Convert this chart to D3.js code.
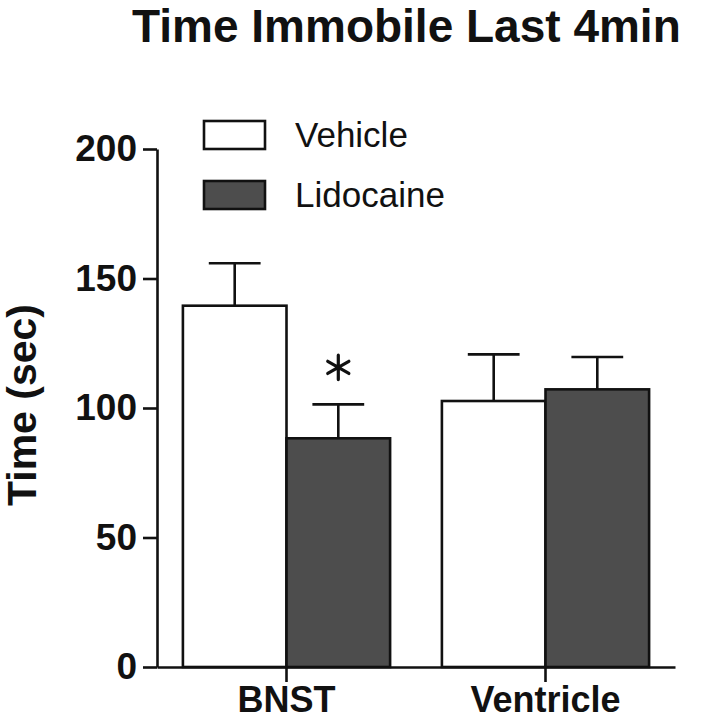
<!DOCTYPE html>
<html>
<head>
<meta charset="utf-8">
<script src="https://cdn.jsdelivr.net/npm/d3@7"></script>
<style>
  html, body { margin: 0; padding: 0; background: #fff; }
  svg { display: block; font-family: "Liberation Sans", Arial, Helvetica, sans-serif; }
</style>
</head>
<body>
<script>
// ---- data ----
const groups = ["BNST", "Ventricle"];
const series = ["Vehicle", "Lidocaine"];
const vehicleMeans = [139.5, 102.7];
const vehicleSEM = [16.4, 18.0];
const lidocaineMeans = [88.3, 107.2];
const lidocaineSEM = [13.1, 12.5];
const yTicks = [0, 50, 100, 150, 200];
const significance = [{ group: "BNST", series: "Lidocaine", label: "*" }];
const title = "Time Immobile Last 4min";
const yLabel = "Time (sec)";

const colors = { Vehicle: "#ffffff", Lidocaine: "#4d4d4d" };

const rows = [];
groups.forEach((g, i) => {
  rows.push({ group: g, series: "Vehicle", mean: vehicleMeans[i], sem: vehicleSEM[i] });
  rows.push({ group: g, series: "Lidocaine", mean: lidocaineMeans[i], sem: lidocaineSEM[i] });
});

const W = 710, H = 720;
const svg = d3.select("body").append("svg").attr("width", W).attr("height", H);

const x0 = d3.scaleBand().domain(groups).range([157, 675]).paddingInner(0.2).paddingOuter(0.1);
const x1 = d3.scaleBand().domain(series).range([0, x0.bandwidth()]);
const y = d3.scaleLinear().domain([0, 200]).range([667, 149]);

const sw = 2.6;

// bars
svg.append("g").selectAll("rect").data(rows).join("rect")
  .attr("x", d => x0(d.group) + x1(d.series))
  .attr("y", d => y(d.mean))
  .attr("width", x1.bandwidth())
  .attr("height", d => y(0) - y(d.mean))
  .attr("fill", d => colors[d.series])
  .attr("stroke", "#111")
  .attr("stroke-width", sw);

// error bars (upper only)
const eg = svg.append("g").attr("stroke", "#111").attr("stroke-width", sw).attr("fill", "none");
rows.forEach(d => {
  const cx = x0(d.group) + x1(d.series) + x1.bandwidth() / 2;
  const cw = x1.bandwidth() / 2;
  eg.append("line").attr("x1", cx).attr("x2", cx).attr("y1", y(d.mean)).attr("y2", y(d.mean + d.sem));
  eg.append("line").attr("x1", cx - cw / 2).attr("x2", cx + cw / 2).attr("y1", y(d.mean + d.sem)).attr("y2", y(d.mean + d.sem));
});

// significance asterisk
significance.forEach(s => {
  const r = rows.find(d => d.group === s.group && d.series === s.series);
  const cx = x0(s.group) + x1(s.series) + x1.bandwidth() / 2;
  const cy = y(r.mean + r.sem) - 37;
  const g = svg.append("g").attr("transform", `translate(${cx},${cy})`);
  g.append("path")
    .attr("d", d3.symbol(d3.symbolAsterisk, 420)())
    .attr("fill", "none").attr("stroke", "#111").attr("stroke-width", 3.2)
    .attr("stroke-linecap", "round");
  g.append("title").text(s.label);
});

// axes
const yAxis = svg.append("g").attr("transform", "translate(157,0)")
  .call(d3.axisLeft(y).tickValues(yTicks).tickSize(14).tickSizeOuter(0).tickPadding(6));
yAxis.selectAll("path, line").attr("stroke", "#111").attr("stroke-width", sw);
yAxis.selectAll("text").attr("font-size", 37).attr("font-weight", "bold").attr("fill", "#111")
  .attr("font-family", "'Liberation Sans', Arial, sans-serif");

const xAxis = svg.append("g").attr("transform", "translate(0,667)")
  .call(d3.axisBottom(x0).tickSize(15).tickSizeOuter(0).tickPadding(4));
xAxis.selectAll("path, line").attr("stroke", "#111").attr("stroke-width", sw);
xAxis.selectAll("text").attr("font-size", 36).attr("font-weight", "bold").attr("fill", "#111")
  .attr("font-family", "'Liberation Sans', Arial, sans-serif");

// title
svg.append("text").attr("x", 132).attr("y", 42)
  .attr("font-size", 46).attr("font-weight", "bold").attr("fill", "#111")
  .text(title);

// y label
svg.append("text")
  .attr("transform", "translate(36,405) rotate(-90)")
  .attr("text-anchor", "middle")
  .attr("font-size", 41).attr("font-weight", "bold").attr("fill", "#111")
  .text(yLabel);

// legend
const legendY = [121, 181];
series.forEach((s, i) => {
  svg.append("rect").attr("x", 204).attr("y", legendY[i]).attr("width", 61).attr("height", 28)
    .attr("fill", colors[s]).attr("stroke", "#111").attr("stroke-width", sw);
  svg.append("text").attr("x", 295).attr("y", legendY[i] + 26)
    .attr("font-size", 35).attr("fill", "#111").text(s);
});
</script>
</body>
</html>
